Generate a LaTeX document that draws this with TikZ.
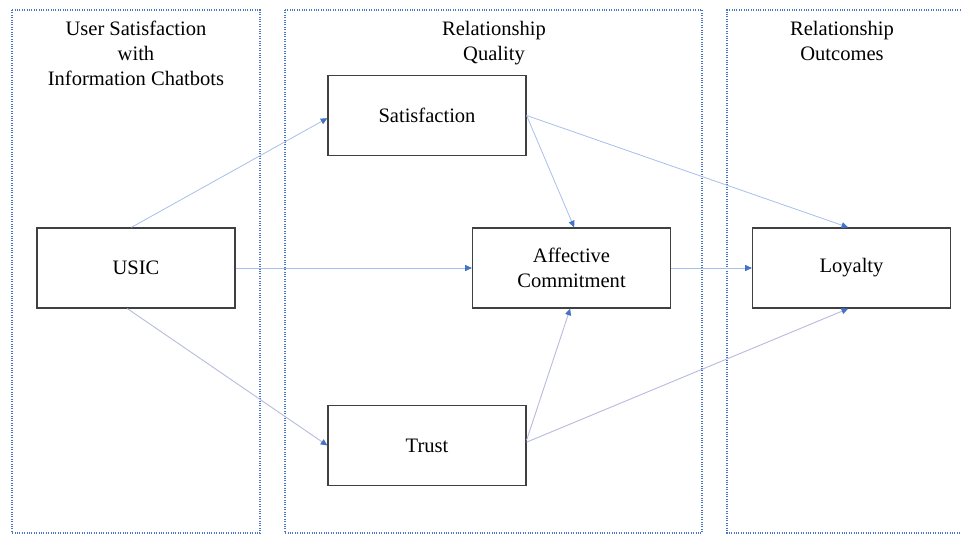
\documentclass[tikz,border=0pt]{standalone}
\usepackage{fontspec}
\setmainfont{Liberation Serif}
\usetikzlibrary{arrows.meta}
\definecolor{panelblue}{HTML}{4A76C6}
\definecolor{linkblue}{HTML}{A7BFEA}
\definecolor{linklav}{HTML}{B9BCE0}
\definecolor{tipblue}{HTML}{4472C4}
\definecolor{boxgray}{HTML}{404040}
\tikzset{
  panel/.style={draw=panelblue, line width=0.8pt, densely dotted},
  title/.style={anchor=north, inner sep=0pt, align=center, font=\fontsize{15.4}{18.75}\selectfont},
  varbox/.style={draw=boxgray, line width=0.9pt, minimum width=148.5pt, minimum height=60pt,
    inner sep=0pt, align=center, font=\fontsize{15.4}{18.75}\selectfont, fill=white},
  link/.style={draw=linkblue, line width=0.6pt, -{Triangle[length=5pt,width=4.5pt,color=tipblue]}},
  linkl/.style={draw=linklav, line width=0.7pt, -{Triangle[length=5pt,width=4.5pt,color=tipblue]}}
}
\begin{document}
\begin{tikzpicture}[x=0.75pt,y=-0.75pt]
\useasboundingbox (0,0) rectangle (962,538);
\clip (0,0) rectangle (962,538);
% panels
\draw[panel] (12,10) rectangle (260,533);
\draw[panel] (285,10) rectangle (702,533);
\draw[panel] (975,10) -- (727,10) -- (727,533) -- (975,533);
% titles
\node[title] (t1) at (136,21) {User Satisfaction\\with\\Information Chatbots};
\node[title] (t2) at (494,21) {Relationship\\Quality};
\node[title] (t3) at (842,21) {Relationship\\Outcomes};
% boxes
\node[varbox] (usic) at (136,268) {USIC};
\node[varbox] (sat) at (427,115.5) {Satisfaction};
\node[varbox] (aff) at (571.5,268) {Affective\\Commitment};
\node[varbox] (loy) at (851.5,268) {Loyalty};
\node[varbox] (trust) at (427,445.5) {Trust};
% links
\draw[link] ([xshift=-3.5pt]usic.north) -- ([yshift=-2pt]sat.west);
\draw[link] (usic.east) -- (aff.west);
\draw[linkl] ([xshift=-6.5pt]usic.south) -- (trust.west);
\draw[link] (sat.east) -- ([xshift=2pt]aff.north);
\draw[link] (sat.east) -- ([xshift=-2.5pt]loy.north);
\draw[link] (aff.east) -- (loy.west);
\draw[linkl] ([yshift=4pt]trust.east) -- ([xshift=-1pt]aff.south);
\draw[linkl] ([yshift=2.5pt]trust.east) -- ([xshift=-2.5pt]loy.south);
\end{tikzpicture}
\end{document}
